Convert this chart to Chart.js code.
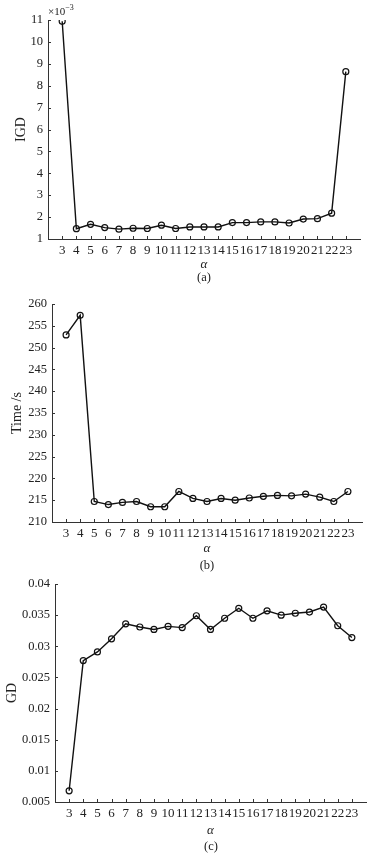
<!DOCTYPE html>
<html>
<head>
<meta charset="utf-8">
<script src="https://cdn.jsdelivr.net/npm/chart.js@4.4.1/dist/chart.umd.min.js"></script>
<style>
  body { margin: 0; background: #fff; width: 380px; height: 855px; position: relative; overflow: hidden; }
  canvas { position: absolute; left: 0; }
  .txt { position: absolute; font-family: "Liberation Serif", serif; color: #222; white-space: nowrap; }
  .cap { font-size: 12.5px; transform: translateX(-50%); }
  .exp { font-size: 11px; left: 48px; top: 3px; }
  .exp sup { font-size: 8px; }
</style>
</head>
<body>
<canvas id="chartA" width="380" height="290" style="top:0"></canvas>
<canvas id="chartB" width="380" height="280" style="top:290px"></canvas>
<canvas id="chartC" width="380" height="285" style="top:570px"></canvas>
<div class="txt exp">×10<sup>−3</sup></div>
<div class="txt cap" style="left:204px; top:270px">(a)</div>
<div class="txt cap" style="left:207px; top:558px">(b)</div>
<div class="txt cap" style="left:211px; top:839px">(c)</div>
<script>
// alpha values (x axis)
const alpha = [3, 4, 5, 6, 7, 8, 9, 10, 11, 12, 13, 14, 15, 16, 17, 18, 19, 20, 21, 22, 23];

// (a) IGD, in units of 1e-3
const igd = [10.94, 1.47, 1.67, 1.52, 1.45, 1.49, 1.48, 1.63, 1.48, 1.55, 1.55, 1.55,
             1.75, 1.75, 1.78, 1.78, 1.73, 1.91, 1.93, 2.18, 8.64];
// (b) running time, seconds
const timeSec = [252.9, 257.4, 214.7, 214.0, 214.5, 214.7, 213.5, 213.5, 217.0, 215.4, 214.7,
                 215.4, 215.0, 215.5, 215.9, 216.1, 216.0, 216.4, 215.7, 214.7, 217.0];
// (c) GD
const gd = [0.0068, 0.0277, 0.0291, 0.0312, 0.0336, 0.0331, 0.0327, 0.0332, 0.0330, 0.0349, 0.0327,
            0.0345, 0.0361, 0.0345, 0.0357, 0.0350, 0.0353, 0.0355, 0.0363, 0.0333, 0.0314];

// y axis ranges
const igdAxis = { min: 1, max: 11, step: 1 };
const timeAxis = { min: 210, max: 260, step: 5 };
const gdAxis = { min: 0.005, max: 0.04, step: 0.005 };

const serif = '"Liberation Serif", "Times New Roman", serif';
const inkColor = '#222';

// small inward tick marks like the matlab figure
const innerTicks = {
  id: 'innerTicks',
  afterDraw(chart) {
    const { ctx, chartArea, scales } = chart;
    ctx.save();
    ctx.strokeStyle = '#333';
    ctx.lineWidth = 1;
    ctx.beginPath();
    scales.y.ticks.forEach(t => {
      const y = Math.round(scales.y.getPixelForValue(t.value)) + 0.5;
      ctx.moveTo(chartArea.left, y);
      ctx.lineTo(chartArea.left + 3, y);
    });
    scales.x.ticks.forEach(t => {
      const x = Math.round(scales.x.getPixelForValue(t.value)) + 0.5;
      ctx.moveTo(x, chartArea.bottom);
      ctx.lineTo(x, chartArea.bottom - 3);
    });
    ctx.stroke();
    ctx.restore();
  }
};

function makeChart(id, values, axis, box) {
  const ctx = document.getElementById(id).getContext('2d');
  return new Chart(ctx, {
    type: 'line',
    data: {
      datasets: [{
        data: alpha.map((a, i) => ({ x: a, y: values[i] })),
        borderColor: '#111',
        borderWidth: 1.4,
        pointRadius: 3,
        pointBorderWidth: 1.2,
        pointBorderColor: '#111',
        pointBackgroundColor: 'rgba(0,0,0,0)',
        tension: 0
      }]
    },
    options: {
      responsive: false,
      devicePixelRatio: 1,
      animation: false,
      layout: { padding: { top: box.top, right: box.right, left: 0, bottom: 0 } },
      plugins: { legend: { display: false }, tooltip: { enabled: false } },
      scales: {
        x: {
          type: 'linear',
          min: 2,
          max: 24,
          afterBuildTicks: s => { s.ticks = alpha.map(v => ({ value: v })); },
          afterFit: s => { s.height = box.xh; },
          grid: { drawOnChartArea: false, drawTicks: false },
          border: { color: '#333', width: 1 },
          ticks: { color: inkColor, padding: 4, maxRotation: 0, autoSkip: false,
                   font: { family: serif, size: 13 } },
          title: { display: true, text: 'α', color: inkColor,
                   font: { family: serif, size: 13, style: 'italic' },
                   padding: { top: 0, bottom: box.xtp } }
        },
        y: {
          min: axis.min,
          max: axis.max,
          afterFit: s => { s.width = box.left; },
          grid: { drawOnChartArea: false, drawTicks: false },
          border: { color: '#333', width: 1 },
          ticks: { stepSize: axis.step, color: inkColor, padding: 5,
                   font: { family: serif, size: 12.5 },
                   callback: v => String(+v.toFixed(3)) },
          title: { display: true, text: box.ytitle, color: inkColor,
                   font: { family: serif, size: 14 },
                   padding: { top: box.ytp, bottom: 0 } }
        }
      }
    },
    plugins: [innerTicks]
  });
}

makeChart('chartA', igd, igdAxis, { top: 20, right: 20, left: 48, xh: 51, xtp: 18, ytitle: 'IGD', ytp: 13 });
makeChart('chartB', timeSec, timeAxis, { top: 14, right: 18, left: 52, xh: 48, xtp: 14, ytitle: 'Time /s', ytp: 9 });
makeChart('chartC', gd, gdAxis, { top: 14, right: 14, left: 55, xh: 53, xtp: 17, ytitle: 'GD', ytp: 4 });
</script>
</body>
</html>
